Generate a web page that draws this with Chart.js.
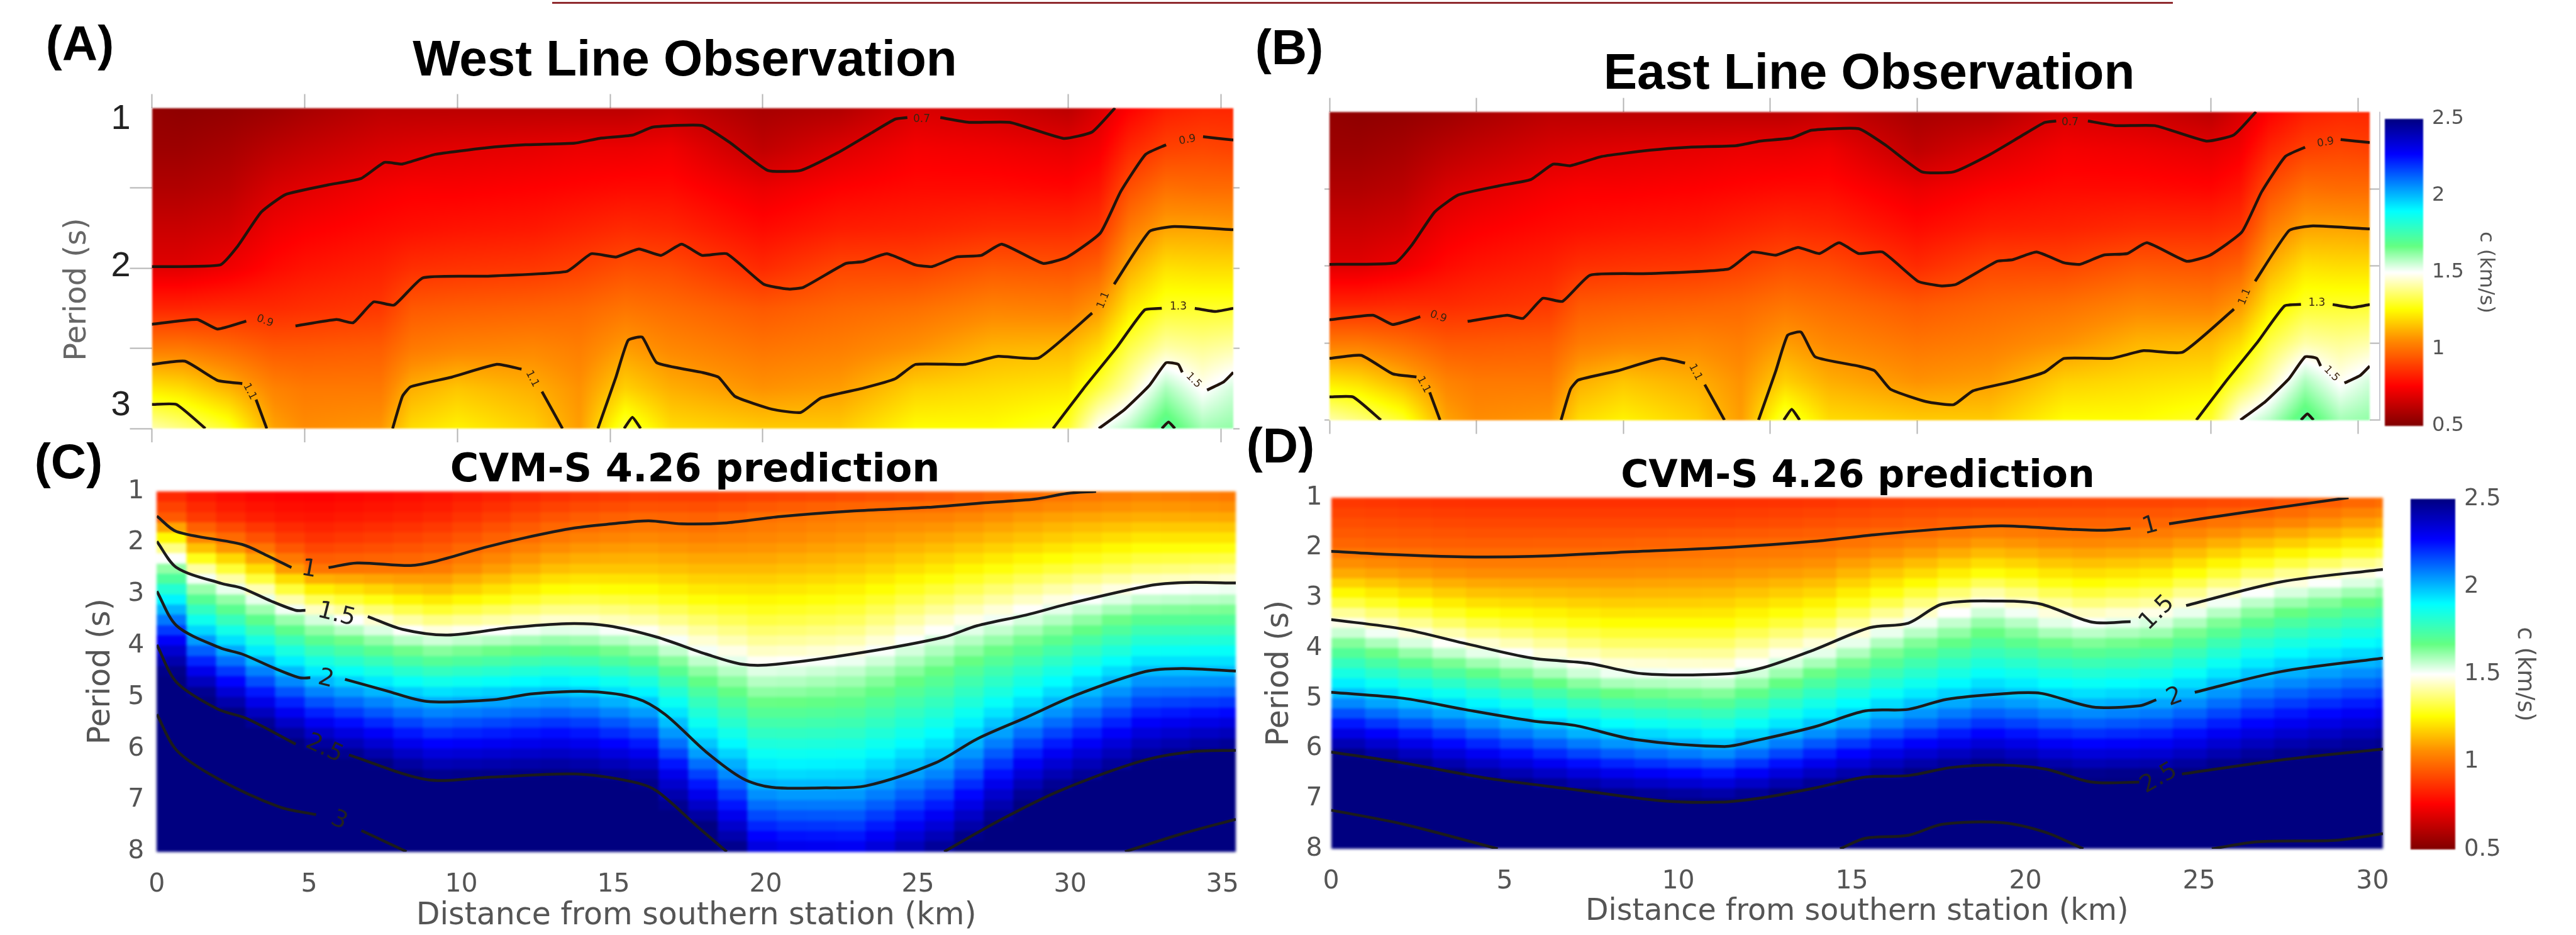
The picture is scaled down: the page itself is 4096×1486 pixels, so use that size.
<!DOCTYPE html>
<html><head><meta charset="utf-8">
<style>html,body{margin:0;padding:0;background:#fff;width:4096px;height:1486px;overflow:hidden}canvas{position:absolute;left:0;top:0}</style>
<script src="https://cdn.jsdelivr.net/npm/chart.js@4"></script>
</head><body>
<canvas id="panelA" width="4096" height="1486"></canvas>
<canvas id="panelB" width="4096" height="1486"></canvas>
<canvas id="panelC" width="4096" height="1486"></canvas>
<canvas id="panelD" width="4096" height="1486"></canvas>
<canvas id="barB" width="4096" height="1486"></canvas>
<canvas id="barD" width="4096" height="1486"></canvas>
<script>
// ---- heat values (km/s): one list per distance column, one number per period row
const obsDistance=[0,1,2.5,4,5,7.5,8.5,10,12.5,14,15.5,17,20,22.5,25,27.5,30,31,32,33.2,34.4,35.4];
const obsPeriod=[1,1.25,1.5,1.75,2,2.25,2.5,2.75,3];
const obsC=[
[.54,.56,.60,.65,.70,.84,1.02,1.22,1.42],
[.53,.56,.60,.65,.70,.84,1.02,1.20,1.38],
[.54,.58,.62,.67,.73,.85,.99,1.13,1.30],
[.56,.62,.68,.73,.78,.85,.95,1.04,1.10],
[.58,.64,.70,.75,.80,.86,.95,1.02,1.06],
[.62,.68,.74,.78,.83,.88,.96,1.02,1.08],
[.62,.69,.75,.79,.86,.95,1.02,1.12,1.20],
[.62,.70,.75,.80,.87,.96,1.04,1.16,1.24],
[.62,.71,.76,.81,.88,.97,1.05,1.12,1.18],
[.62,.72,.77,.83,.90,.98,1.03,1.07,1.09],
[.62,.72,.78,.85,.93,1.01,1.09,1.18,1.32],
[.64,.73,.78,.84,.92,.99,1.05,1.12,1.20],
[.58,.63,.72,.78,.85,.95,1.01,1.07,1.17],
[.60,.69,.76,.82,.91,.98,1.03,1.09,1.17],
[.68,.74,.78,.83,.91,1.00,1.07,1.18,1.26],
[.66,.73,.78,.85,.95,1.04,1.13,1.20,1.26],
[.62,.71,.77,.85,.94,1.03,1.14,1.22,1.30],
[.68,.74,.80,.87,.97,1.08,1.20,1.32,1.50],
[.76,.84,.93,1.02,1.12,1.22,1.33,1.43,1.58],
[.82,.90,1.00,1.10,1.21,1.30,1.42,1.59,1.72],
[.84,.91,.99,1.10,1.20,1.30,1.40,1.49,1.60],
[.84,.90,.99,1.09,1.20,1.30,1.42,1.55,1.62]];
const predPeriod=[1,1.5,2,2.5,3,3.5,4,4.5,5,5.5,6,6.5,7,7.5,8];
const westDistance=[0,1,3,5,9,13.5,16,18,20,23,26,29,32.5,35.4];
const westC=[
[.85,1.00,1.52,1.77,2.03,2.27,2.50,2.60,2.80,3,3,3,3,3,3],
[.80,.90,1.12,1.46,1.70,1.91,2.14,2.36,2.57,2.75,2.93,3,3,3,3],
[.76,.83,.98,1.25,1.53,1.72,1.92,2.12,2.31,2.50,2.69,2.88,3.08,3.1,3.1],
[.75,.80,.88,1.01,1.30,1.56,1.75,1.94,2.13,2.31,2.50,2.69,2.88,3.06,3.2],
[.78,.84,.93,1.02,1.18,1.38,1.59,1.78,1.98,2.14,2.30,2.47,2.60,2.72,2.85],
[.85,.95,1.05,1.16,1.30,1.46,1.66,1.85,2.03,2.20,2.35,2.50,2.62,2.74,2.86],
[.87,.98,1.07,1.16,1.28,1.42,1.59,1.77,1.95,2.11,2.27,2.44,2.55,2.68,2.80],
[.87,.97,1.05,1.14,1.24,1.36,1.48,1.62,1.75,1.87,2.00,2.17,2.33,2.50,2.65],
[.88,1.00,1.06,1.14,1.23,1.32,1.42,1.53,1.64,1.74,1.85,1.95,2.07,2.20,2.33],
[.90,1.03,1.09,1.17,1.26,1.35,1.45,1.57,1.67,1.76,1.86,1.96,2.07,2.19,2.31],
[.93,1.04,1.13,1.23,1.34,1.46,1.58,1.68,1.77,1.87,1.97,2.09,2.22,2.36,2.50],
[.98,1.09,1.18,1.30,1.43,1.56,1.69,1.82,1.94,2.08,2.23,2.38,2.53,2.65,2.80],
[1.02,1.12,1.24,1.37,1.53,1.70,1.85,2.00,2.14,2.28,2.42,2.55,2.67,2.79,2.90],
[1.00,1.11,1.24,1.39,1.55,1.71,1.86,2.00,2.16,2.33,2.49,2.68,2.86,3.05,3.20]];
const eastDistance=[0,4,8,11.3,14,16.5,19,21.5,24,27,30.3];
const eastC=[
[.87,.93,.99,1.12,1.30,1.50,1.70,1.87,2.05,2.26,2.47,2.69,2.90,3.10,3.20],
[.85,.91,.97,1.06,1.18,1.33,1.50,1.70,1.89,2.08,2.27,2.46,2.68,2.91,3.10],
[.85,.91,.98,1.06,1.15,1.26,1.38,1.52,1.71,1.90,2.10,2.31,2.52,2.70,2.90],
[.85,.91,1.00,1.07,1.16,1.26,1.38,1.50,1.67,1.84,2.02,2.24,2.47,2.65,2.80],
[.86,.93,1.01,1.10,1.21,1.34,1.49,1.66,1.82,1.98,2.18,2.38,2.58,2.79,3.00],
[.88,.95,1.05,1.18,1.32,1.49,1.65,1.79,1.94,2.10,2.30,2.48,2.70,2.90,3.10],
[.88,.98,1.11,1.27,1.46,1.62,1.75,1.89,2.03,2.20,2.38,2.57,2.80,3.00,3.20],
[.89,.97,1.07,1.20,1.34,1.50,1.67,1.82,1.97,2.13,2.30,2.47,2.64,2.82,3.00],
[.89,.98,1.09,1.23,1.38,1.55,1.70,1.85,2.00,2.16,2.32,2.49,2.65,2.83,3.00],
[.90,1.03,1.19,1.37,1.56,1.71,1.86,2.00,2.14,2.28,2.43,2.58,2.73,2.89,3.05],
[.97,1.11,1.28,1.50,1.66,1.81,1.94,2.08,2.22,2.36,2.50,2.65,2.80,2.94,3.10]];

// ---- contour lines: [distance km, period s]; null = a gap in the line
const obsContour07=[[0,1.99],[2.23,1.98],[2.82,1.86],[3.58,1.65],[4.38,1.54],[5.78,1.48],[6.85,1.44],[7.61,1.34],[8.2,1.35],[9.27,1.29],[10.89,1.25],[12.23,1.23],[13.84,1.22],[14.65,1.19],[15.73,1.17],[16.4,1.12],[18.01,1.11],[18.95,1.22],[20.16,1.39],[21.24,1.39],[22.45,1.28],[23.52,1.16],[24.33,1.07],[24.73,1.06],null,[25.81,1.06],[26.75,1.09],[28.09,1.09],[29.84,1.19],[30.78,1.15],[31.53,1]];
const obsContour09=[[0,2.35],[1.48,2.32],[2.15,2.38],[3.09,2.33],null,[4.7,2.36],[6.05,2.32],[6.59,2.34],[7.26,2.21],[7.93,2.23],[8.87,2.06],[10.89,2.05],[13.58,2.02],[14.38,1.91],[15.19,1.93],[15.94,1.88],[16.67,1.92],[17.34,1.85],[18.01,1.92],[18.82,1.91],[20.03,2.1],[20.83,2.13],[21.32,2.12],[22.72,1.97],[23.25,1.96],[24.06,1.91],[25,1.98],[25.54,1.99],[26.34,1.93],[27.15,1.92],[27.82,1.85],[29.17,1.97],[29.97,1.93],[31.05,1.78],[31.72,1.52],[32.53,1.29],[33.2,1.23],null,[34.41,1.18],[35.4,1.2]];
const obsContour11=[[0,2.6],[1.08,2.58],[2.15,2.7],[2.96,2.72],null,[3.41,2.82],[3.76,3],null,[7.88,3],[8.2,2.8],[8.47,2.74],[9.81,2.68],[11.29,2.6],[12.1,2.63],null,[12.77,2.77],[13.44,3],null,[14.6,3],[15.19,2.68],[15.59,2.45],[16.05,2.43],[16.53,2.59],[18.01,2.65],[18.55,2.68],[19.09,2.8],[20.3,2.88],[21.24,2.9],[21.9,2.81],[23.25,2.75],[24.33,2.69],[25,2.6],[26.6,2.6],[27.7,2.55],[29.03,2.56],[30.78,2.28],null,[31.5,2.1],[32.66,1.77],[33.47,1.74],[35.4,1.76]];
const obsContour13=[[0,2.85],[.8,2.85],[1.75,3],null,[15.46,3],[15.73,2.93],[16,3],null,[29.5,3],[30.5,2.75],[31.6,2.49],[32.5,2.26],[33.06,2.25],null,[34.14,2.25],[34.8,2.27],[35.4,2.25]];
const obsContour15=[[31,3],[31.85,2.88],[32.66,2.73],[33.2,2.59],[33.6,2.6],[33.73,2.65],null,[34.54,2.76],[35.08,2.71],[35.4,2.65]];
const obsContour17=[[33.06,3],[33.28,2.96],[33.49,3]];
const westContour10=[[0,1.48],[.65,1.78],[2.8,2.03],[3.6,2.24],[4.42,2.48],null,[5.64,2.48],[6.58,2.39],[8.33,2.44],[9.14,2.36],[10.76,2.09],[12.1,1.9],[13.73,1.71],[14.94,1.63],[16.15,1.57],[17.23,1.63],[18.72,1.61],[20.47,1.49],[22.9,1.38],[25.32,1.31],[27.2,1.22],[28.83,1.15],[29.9,1.04],[30.85,1]];
const westContour15=[[0,1.97],[.65,2.48],[2.13,2.79],[2.8,2.88],[3.75,3.13],[4.56,3.31],[4.88,3.31],null,[6.93,3.43],[8.07,3.68],[9.55,3.79],[11.57,3.65],[13.46,3.57],[14.81,3.61],[16.42,3.83],[18.04,4.16],[19.25,4.36],[20.33,4.36],[23.17,4.13],[25.86,3.83],[26.94,3.61],[28.56,3.4],[29.9,3.19],[32.6,2.83],[33.82,2.77],[35.44,2.78]];
const westContour20=[[0,2.94],[.65,3.61],[2.08,4.04],[2.8,4.16],[3.88,4.44],[4.69,4.62],[5.04,4.62],null,[6.18,4.65],[7.52,4.87],[8.87,5.08],[11.03,5.05],[12.38,4.93],[14.27,4.89],[15.75,5.02],[16.69,5.33],[18.04,6.06],[19.25,6.58],[20.2,6.75],[21.82,6.76],[23.3,6.72],[25.59,6.27],[26.94,5.81],[28.56,5.39],[30.18,4.96],[32.47,4.5],[33.68,4.44],[35.44,4.49]];
const westContour25=[[0,3.98],[.65,4.71],[2,5.23],[2.94,5.41],[4.56,5.91],null,[6.31,6.12],[8.87,6.6],[11.03,6.55],[13.73,6.49],[15.61,6.64],[16.42,6.82],[17.77,7.52],[18.72,8],null,[25.86,8],[27.75,7.37],[29.64,6.82],[32.33,6.24],[33.95,6.06],[35.44,6.03]];
const westContour30=[[0,5.33],[.65,6.03],[2,6.58],[4.02,7.13],[5.23,7.28],null,[6.72,7.59],[8.2,8],null,[31.8,8],[33.68,7.65],[35.44,7.37]];
const eastContour10=[[0,2.07],[1.6,2.13],[3.82,2.18],[5.79,2.17],[8.25,2.09],[11.45,1.99],[13.92,1.87],[15.64,1.74],[17.86,1.61],[19.33,1.56],[21.31,1.63],[22.29,1.65],[23.03,1.61],null,[24.14,1.52],[26.23,1.3],[29.31,1]];
const eastContour15=[[0,3.43],[2.09,3.62],[3.82,3.9],[5.79,4.2],[7.39,4.3],[8.99,4.51],[11.45,4.51],[12.44,4.39],[13.92,4.03],[15.52,3.59],[16.63,3.5],[17.61,3.12],[19.33,3.06],[20.44,3.12],[21.92,3.48],[23.03,3.47],null,[24.63,3.15],[27.34,2.68],[30.3,2.43]];
const eastContour20=[[0,4.88],[2.09,5],[3.82,5.22],[5.79,5.45],[7.02,5.54],[8.74,5.82],[11.33,5.96],[12.19,5.85],[13.92,5.57],[15.39,5.25],[16.63,5.22],[17.73,5.02],[19.33,4.91],[20.44,4.9],[21.92,5.17],[23.28,5.15],[23.77,5.03],null,[24.88,4.88],[27.34,4.47],[30.3,4.2]];
const eastContour25=[[0,6.07],[2.09,6.29],[4.56,6.6],[7.02,6.82],[9.48,7.04],[11.21,7.07],[12.44,6.98],[13.92,6.79],[15.39,6.57],[16.63,6.54],[17.86,6.38],[19.33,6.33],[20.57,6.41],[21.92,6.67],[23.28,6.67],null,[24.51,6.51],[27.34,6.23],[30.3,6.01]];
const eastContour30=[[0,7.23],[2.09,7.51],[4.8,8],null,[14.66,8],[15.39,7.79],[16.63,7.73],[17.61,7.51],[19.33,7.48],[20.57,7.67],[21.67,8],null,[25.37,8],[26.72,7.86],[28.94,7.83],[30.3,7.7]];

// ---- contour labels: text, distance, period, angle in degrees
const obsLabels=[["0.7",25.2,1.07,0],["0.9",33.9,1.2,-10],["0.9",3.7,2.33,20],["1.1",3.2,2.77,62],["1.1",12.45,2.69,62],["1.1",31.15,2.2,-68],["1.3",33.6,2.24,0],["1.5",34.1,2.7,45]];
const westLabels=[["1",5,2.52,10],["1.5",5.9,3.4,14],["2",5.55,4.65,14],["2.5",5.5,6,25],["3",5.98,7.4,25]];
const eastLabels=[["1",23.6,1.57,-15],["1.5",23.8,3.3,-45],["2",24.3,4.98,-20],["2.5",23.85,6.6,-30]];

// ---- tick lists and captions
const obsXTicks=[0,5,10,15,20,30,35];
const obsYTicks=[1.5,2,2.5,3];
const predYTicks=[1,2,3,4,5,6,7,8];
const westXTicks=[0,5,10,15,20,25,30,35];
const eastXTicks=[0,5,10,15,20,25,30];
const colorTicks=[.5,1,1.5,2,2.5];
const colorStops=[[.5,128,0,0],[.76,255,0,0],[1.06,255,140,0],[1.26,255,255,0],[1.5,255,255,255],[1.67,100,255,130],[1.9,0,255,255],[2.27,0,0,255],[2.5,0,0,128]];
const xCaption="Distance from southern station (km)",yCaption="Period (s)",cCaption="c (km/s)";

function colorOf(v){
  if(v<=colorStops[0][0])return colorStops[0].slice(1);
  for(let i=1;i<colorStops.length;i++){const b=colorStops[i];if(v<=b[0]){const a=colorStops[i-1],t=(v-a[0])/(b[0]-a[0]);return [a[1]+(b[1]-a[1])*t,a[2]+(b[2]-a[2])*t,a[3]+(b[3]-a[3])*t];}}
  return colorStops[colorStops.length-1].slice(1);
}
function lookup(arr,v){let i=0;while(i<arr.length-2&&v>arr[i+1])i++;const t=Math.min(1,Math.max(0,(v-arr[i])/(arr[i+1]-arr[i])));return [i,t];}
function sample(xs,ys,m,x,y){const [i,t]=lookup(xs,x),[j,u]=lookup(ys,y);
  return (m[i][j]*(1-u)+m[i][j+1]*u)*(1-t)+(m[i+1][j]*(1-u)+m[i+1][j+1]*u)*t;}

const W=4096,H=1486;
const heatPlugin={id:'heat',beforeDatasetsDraw(chart,args,o){
  if(!o.valueAt)return;
  const a=chart.chartArea,w=Math.round(a.right-a.left),h=Math.round(a.bottom-a.top);
  const off=document.createElement('canvas');off.width=w;off.height=h;const g=off.getContext('2d');const img=g.createImageData(w,h);
  const sx=chart.scales.x,sy=chart.scales.y;
  for(let py=0;py<h;py++){let yv=sy.getValueForPixel(a.top+py+.5);
    if(o.dy)yv=1+(Math.floor((yv-1)/o.dy)+.5)*o.dy;
    for(let px=0;px<w;px++){let xv=sx.getValueForPixel(a.left+px+.5);
      if(o.dx)xv=(Math.floor(xv/o.dx)+.5)*o.dx;
      const c=colorOf(o.valueAt(xv,yv)),k=(py*w+px)*4;img.data[k]=c[0];img.data[k+1]=c[1];img.data[k+2]=c[2];img.data[k+3]=255;}}
  g.putImageData(img,0,0);const ctx=chart.ctx;ctx.save();
  if(o.blur)ctx.filter='blur('+o.blur+'px)';
  ctx.drawImage(off,a.left,a.top,a.right-a.left,a.bottom-a.top);ctx.restore();
}};
const notePlugin={id:'notes',afterDatasetsDraw(chart,args,o){
  const ctx=chart.ctx,sx=chart.scales.x,sy=chart.scales.y;
  (o.labels||[]).forEach(l=>{ctx.save();ctx.translate(sx.getPixelForValue(l[1]),sy.getPixelForValue(l[2]));ctx.rotate(l[3]*Math.PI/180);
    ctx.font=o.labelFont;ctx.fillStyle=o.labelColor;ctx.textAlign='center';ctx.textBaseline='middle';ctx.fillText(l[0],0,0);ctx.restore();});
},afterDraw(chart,args,o){
  const ctx=chart.ctx;
  if(o.paint)o.paint(ctx,chart);
  (o.texts||[]).forEach(t=>{ctx.save();ctx.translate(t[1],t[2]);ctx.rotate((t[5]||0)*Math.PI/180);ctx.font=t[3];ctx.fillStyle=t[4];ctx.textAlign='center';ctx.textBaseline='middle';ctx.fillText(t[0],0,0);ctx.restore();});
}};
Chart.register(heatPlugin,notePlugin);
Chart.defaults.font.family='"DejaVu Sans"';

function axis(kind,size,extra){return Object.assign({type:'linear',display:true,
  afterFit(s){if(kind==='h')s.height=size;else s.width=size;},
  border:{display:false},grid:{drawOnChartArea:false,drawTicks:false},ticks:{display:false}},extra);}
function tickList(list){return s=>{s.ticks=list.map(v=>({value:v}));};}
function lineSets(lists,color,width,tension){return lists.map(c=>({data:c.map((p,i)=>p?{x:p[0],y:p[1]}:{x:c[i-1][0],y:null}),
  showLine:true,spanGaps:false,pointRadius:0,borderColor:color,borderWidth:width,tension:tension,fill:false}));}

function panel(id,r,p){
  const tickGrid=(len)=>({drawOnChartArea:false,drawTicks:len>0,tickLength:len,tickWidth:2,tickColor:p.tickColor||'#b4b4b4'});
  return new Chart(document.getElementById(id),{type:'scatter',data:{datasets:lineSets(p.contours,p.lineColor,p.lineWidth,p.tension)},
   options:{responsive:false,animation:false,events:[],layout:{padding:0},
    plugins:{legend:{display:false},tooltip:{enabled:false},title:{display:false},
      heat:{valueAt:(x,y)=>sample(p.xs,p.ys,p.m,x,y),dx:p.dx,dy:p.dy,blur:p.blur},
      notes:{labels:p.labels,labelFont:p.labelFont,labelColor:p.labelColor,texts:p.texts,paint:p.paint}},
    scales:{
      x:axis('h',H-r.b,{min:0,max:p.xmax,afterBuildTicks:tickList(p.xTicks),grid:tickGrid(p.bottomTick||0),
        ticks:p.xLabels?{display:true,autoSkip:false,maxRotation:0,padding:p.xPad,color:'#555',font:{size:p.tickSize},callback:v=>String(v)}:{display:false},
        title:p.xLabels?{display:true,text:xCaption,color:'#555',font:{size:p.captionSize},padding:{top:0,bottom:p.xTitlePad}}:{display:false}}),
      x2:axis('h',r.t,{position:'top',min:0,max:p.xmax,afterBuildTicks:tickList(p.topTicks||[]),grid:tickGrid(p.topTick||0)}),
      y:axis('v',r.l,{reverse:true,min:1,max:p.ymax,afterBuildTicks:tickList(p.yTicks),grid:tickGrid(p.leftTick||0),
        ticks:p.yLabels?{display:true,padding:p.yPad,color:'#555',font:{size:p.tickSize},callback:v=>String(v)}:{display:false},
        title:p.yLabels?{display:true,text:yCaption,color:'#555',font:{size:p.yCaptionSize},padding:{top:p.yTitlePad,bottom:0}}:{display:false}}),
      y2:axis('v',W-r.r,{position:'right',reverse:true,min:1,max:p.ymax,afterBuildTicks:tickList(p.rightTicks||[]),grid:tickGrid(p.rightTick||0)})
    }}});
}
function colorBar(id,r,p){
  return new Chart(document.getElementById(id),{type:'scatter',data:{datasets:[]},
   options:{responsive:false,animation:false,events:[],layout:{padding:0},
    plugins:{legend:{display:false},tooltip:{enabled:false},
      heat:{valueAt:(x,v)=>v,blur:1},notes:{}},
    scales:{
      x:axis('h',H-r.b,{min:0,max:1,afterBuildTicks:tickList([])}),
      x2:axis('h',r.t,{position:'top',min:0,max:1,afterBuildTicks:tickList([])}),
      y:axis('v',r.l,{min:.5,max:2.5,afterBuildTicks:tickList([])}),
      y2:axis('v',W-r.r,{position:'right',min:.5,max:2.5,afterBuildTicks:tickList(colorTicks),
        ticks:{display:true,padding:p.pad,color:'#555',font:{size:p.size},callback:v=>String(v)},
        title:{display:true,text:cCaption,color:'#555',font:{size:p.size},padding:{top:p.titlePad,bottom:0}}})
    }}});
}

const obsLines=[obsContour07,obsContour09,obsContour11,obsContour13,obsContour15,obsContour17];
const obsBase={xs:obsDistance,ys:obsPeriod,m:obsC,xmax:35.4,ymax:3,contours:obsLines,lineColor:'#21140c',lineWidth:4.5,tension:.15,blur:1.5,
  labels:obsLabels,labelFont:'17px "DejaVu Sans"',labelColor:'#3a2410',xTicks:obsXTicks,topTicks:obsXTicks,yTicks:obsYTicks,rightTicks:obsYTicks};

panel('panelA',{l:241.5,r:1961,t:171.5,b:681},Object.assign({},obsBase,{bottomTick:22,topTick:22,leftTick:35,rightTick:10,
  texts:[
    ['West Line Observation',1089,98,'bold 80px "Liberation Sans"','#000'],
    ['(A)',127,74,'bold 78px "Liberation Sans"','#000'],
    ['1',192,190,'56px "Liberation Sans"','#222'],
    ['2',192,424,'56px "Liberation Sans"','#222'],
    ['3',192,645,'56px "Liberation Sans"','#222'],
    [yCaption,124,460,'48px "DejaVu Sans"','#666',-90]],
  paint(ctx){ctx.fillStyle='#8f2a2e';ctx.fillRect(878,3,2577,3);}}));
panel('panelB',{l:2114,r:3768,t:177.6,b:667.6},Object.assign({},obsBase,{bottomTick:22,topTick:22,leftTick:8,rightTick:17,
  texts:[
    ['East Line Observation',2972,119,'bold 80px "Liberation Sans"','#000'],
    ['(B)',2050,80,'bold 78px "Liberation Sans"','#000']],
  paint(ctx,chart){const a=chart.chartArea;ctx.fillStyle='#c8c8d0';ctx.fillRect(a.right+15,a.top,2,a.bottom-a.top);}}));
panel('panelC',{l:249.4,r:1965,t:781,b:1353.6},{xs:westDistance,ys:predPeriod,m:westC,dx:.97,dy:.2,blur:2,xmax:35.44,ymax:8,
  contours:[westContour10,westContour15,westContour20,westContour25,westContour30],lineColor:'#1c1c1c',lineWidth:4.5,tension:.3,
  labels:westLabels,labelFont:'38px "DejaVu Sans"',labelColor:'#222',xTicks:westXTicks,yTicks:predYTicks,
  xLabels:true,yLabels:true,xPad:28,yPad:20,tickSize:41,captionSize:49,yCaptionSize:49,xTitlePad:0,yTitlePad:132,
  texts:[['CVM-S 4.26 prediction',1105,749,'bold 62px "DejaVu Sans"','#000'],['(C)',109,738,'bold 78px "Liberation Sans"','#000']]});
panel('panelD',{l:2116.6,r:3789,t:791,b:1349},{xs:eastDistance,ys:predPeriod,m:eastC,dx:.97,dy:.2,blur:2,xmax:30.3,ymax:8,
  contours:[eastContour10,eastContour15,eastContour20,eastContour25,eastContour30],lineColor:'#1c1c1c',lineWidth:4.5,tension:.3,
  labels:eastLabels,labelFont:'38px "DejaVu Sans"',labelColor:'#222',xTicks:eastXTicks,yTicks:predYTicks,
  xLabels:true,yLabels:true,xPad:28,yPad:14,tickSize:41,captionSize:47.5,yCaptionSize:49,xTitlePad:8,yTitlePad:2006,
  texts:[['CVM-S 4.26 prediction',2954,758,'bold 60px "DejaVu Sans"','#000'],['(D)',2036,713,'bold 78px "Liberation Sans"','#000']]});
colorBar('barB',{l:3792,r:3853,t:189,b:677},{pad:14,size:32,titlePad:124});
colorBar('barD',{l:3833,r:3904,t:793,b:1350},{pad:14,size:37,titlePad:60});
</script></body></html>
